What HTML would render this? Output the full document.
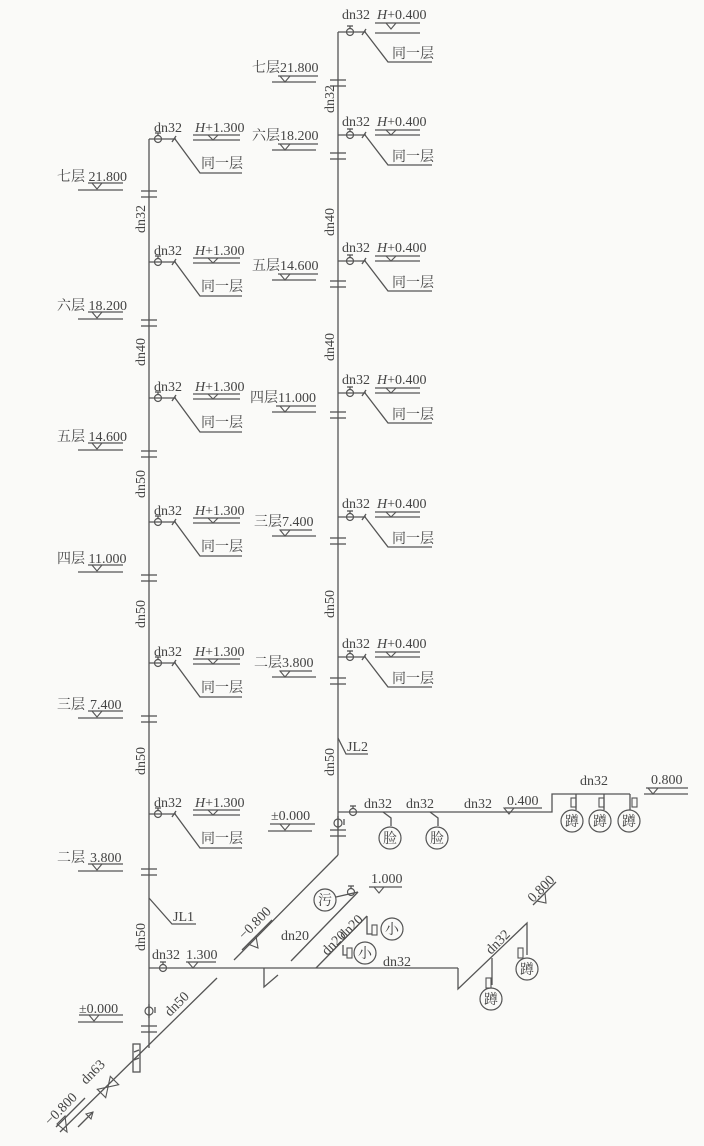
<!DOCTYPE html>
<html><head><meta charset="utf-8"><style>
html,body{margin:0;padding:0;background:#fafaf8;}
svg{display:block}
text{font-family:"Liberation Serif","Noto Serif CJK SC","Noto Sans CJK SC",serif;font-size:14px;fill:#444}
.s{font-size:14px}
line,path,polyline{stroke:#555;stroke-width:1.3;fill:none}
circle{stroke:#555;stroke-width:1.2;fill:none}
polygon{stroke:#555;stroke-width:1.1;fill:none}
</style></head><body>
<svg width="704" height="1146" viewBox="0 0 704 1146" xmlns="http://www.w3.org/2000/svg">
<!-- LEFT RISER -->
<line x1="149" y1="139" x2="149" y2="1048"/>
<g>
<line x1="141" y1="191" x2="157" y2="191"/><line x1="141" y1="197" x2="157" y2="197"/>
<line x1="141" y1="320" x2="157" y2="320"/><line x1="141" y1="326" x2="157" y2="326"/>
<line x1="141" y1="451" x2="157" y2="451"/><line x1="141" y1="457" x2="157" y2="457"/>
<line x1="141" y1="575" x2="157" y2="575"/><line x1="141" y1="581" x2="157" y2="581"/>
<line x1="141" y1="716" x2="157" y2="716"/><line x1="141" y1="722" x2="157" y2="722"/>
<line x1="141" y1="869" x2="157" y2="869"/><line x1="141" y1="875" x2="157" y2="875"/>
<line x1="141" y1="1026" x2="157" y2="1026"/><line x1="141" y1="1032" x2="157" y2="1032"/>
</g>
<text transform="translate(145,233) rotate(-90)">dn32</text>
<text transform="translate(145,366) rotate(-90)">dn40</text>
<text transform="translate(145,498) rotate(-90)">dn50</text>
<text transform="translate(145,628) rotate(-90)">dn50</text>
<text transform="translate(145,775) rotate(-90)">dn50</text>
<text transform="translate(145,951) rotate(-90)">dn50</text>

<g>
<text x="57" y="181">七层 21.800</text><polygon points="92,183 102,183 97,189"/><line x1="78" y1="190" x2="123" y2="190"/><line x1="88" y1="183" x2="123" y2="183"/>
<text x="57" y="310">六层 18.200</text><polygon points="92,312 102,312 97,318"/><line x1="78" y1="319" x2="123" y2="319"/><line x1="88" y1="312" x2="123" y2="312"/>
<text x="57" y="441">五层 14.600</text><polygon points="92,443 102,443 97,449"/><line x1="78" y1="450" x2="123" y2="450"/><line x1="88" y1="443" x2="123" y2="443"/>
<text x="57" y="563">四层 11.000</text><polygon points="92,565 102,565 97,571"/><line x1="78" y1="572" x2="123" y2="572"/><line x1="88" y1="565" x2="123" y2="565"/>
<text x="57" y="709">三层</text><text x="90" y="709">7.400</text><polygon points="92,711 102,711 97,717"/><line x1="78" y1="718" x2="123" y2="718"/><line x1="88" y1="711" x2="123" y2="711"/>
<text x="57" y="862">二层</text><text x="90" y="862">3.800</text><polygon points="92,864 102,864 97,870"/><line x1="78" y1="871" x2="123" y2="871"/><line x1="88" y1="864" x2="123" y2="864"/>
<text x="79" y="1013">±0.000</text><polygon points="89,1015 99,1015 94,1021"/><line x1="78" y1="1022" x2="123" y2="1022"/><line x1="79" y1="1015" x2="123" y2="1015"/>
</g>

<g transform="translate(0,139)">
<line x1="149" y1="0" x2="176" y2="0"/><circle cx="158" cy="0" r="3.5"/><line x1="155" y1="-6" x2="161" y2="-6"/><line x1="158" y1="-6" x2="158" y2="-3.5"/>
<path d="M172,3 L176,-3"/><path d="M175,0 L200,34 L242,34"/>
<text x="154" y="-7">dn32</text><text x="195" y="-7"><tspan font-style="italic">H</tspan>+1.300</text>
<line x1="193" y1="-4" x2="240" y2="-4"/><polygon points="208,-4 218,-4 213,1"/><line x1="193" y1="1" x2="240" y2="1"/>
<text x="201" y="29">同一层</text>
</g>
<g transform="translate(0,262)">
<line x1="149" y1="0" x2="176" y2="0"/><circle cx="158" cy="0" r="3.5"/><line x1="155" y1="-6" x2="161" y2="-6"/><line x1="158" y1="-6" x2="158" y2="-3.5"/>
<path d="M172,3 L176,-3"/><path d="M175,0 L200,34 L242,34"/>
<text x="154" y="-7">dn32</text><text x="195" y="-7"><tspan font-style="italic">H</tspan>+1.300</text>
<line x1="193" y1="-4" x2="240" y2="-4"/><polygon points="208,-4 218,-4 213,1"/><line x1="193" y1="1" x2="240" y2="1"/>
<text x="201" y="29">同一层</text>
</g>
<g transform="translate(0,398)">
<line x1="149" y1="0" x2="176" y2="0"/><circle cx="158" cy="0" r="3.5"/><line x1="155" y1="-6" x2="161" y2="-6"/><line x1="158" y1="-6" x2="158" y2="-3.5"/>
<path d="M172,3 L176,-3"/><path d="M175,0 L200,34 L242,34"/>
<text x="154" y="-7">dn32</text><text x="195" y="-7"><tspan font-style="italic">H</tspan>+1.300</text>
<line x1="193" y1="-4" x2="240" y2="-4"/><polygon points="208,-4 218,-4 213,1"/><line x1="193" y1="1" x2="240" y2="1"/>
<text x="201" y="29">同一层</text>
</g>
<g transform="translate(0,522)">
<line x1="149" y1="0" x2="176" y2="0"/><circle cx="158" cy="0" r="3.5"/><line x1="155" y1="-6" x2="161" y2="-6"/><line x1="158" y1="-6" x2="158" y2="-3.5"/>
<path d="M172,3 L176,-3"/><path d="M175,0 L200,34 L242,34"/>
<text x="154" y="-7">dn32</text><text x="195" y="-7"><tspan font-style="italic">H</tspan>+1.300</text>
<line x1="193" y1="-4" x2="240" y2="-4"/><polygon points="208,-4 218,-4 213,1"/><line x1="193" y1="1" x2="240" y2="1"/>
<text x="201" y="29">同一层</text>
</g>
<g transform="translate(0,663)">
<line x1="149" y1="0" x2="176" y2="0"/><circle cx="158" cy="0" r="3.5"/><line x1="155" y1="-6" x2="161" y2="-6"/><line x1="158" y1="-6" x2="158" y2="-3.5"/>
<path d="M172,3 L176,-3"/><path d="M175,0 L200,34 L242,34"/>
<text x="154" y="-7">dn32</text><text x="195" y="-7"><tspan font-style="italic">H</tspan>+1.300</text>
<line x1="193" y1="-4" x2="240" y2="-4"/><polygon points="208,-4 218,-4 213,1"/><line x1="193" y1="1" x2="240" y2="1"/>
<text x="201" y="29">同一层</text>
</g>
<g transform="translate(0,814)">
<line x1="149" y1="0" x2="176" y2="0"/><circle cx="158" cy="0" r="3.5"/><line x1="155" y1="-6" x2="161" y2="-6"/><line x1="158" y1="-6" x2="158" y2="-3.5"/>
<path d="M172,3 L176,-3"/><path d="M175,0 L200,34 L242,34"/>
<text x="154" y="-7">dn32</text><text x="195" y="-7"><tspan font-style="italic">H</tspan>+1.300</text>
<line x1="193" y1="-4" x2="240" y2="-4"/><polygon points="208,-4 218,-4 213,1"/><line x1="193" y1="1" x2="240" y2="1"/>
<text x="201" y="29">同一层</text>
</g>

<path d="M149,898 L172,924 L196,924"/><text x="173" y="921">JL1</text>

<line x1="149" y1="968" x2="458" y2="968"/>
<circle cx="163" cy="968" r="3.5"/><line x1="160" y1="962" x2="166" y2="962"/><line x1="163" y1="962" x2="163" y2="964.5"/>
<text x="152" y="959">dn32</text><text x="186" y="959">1.300</text>
<line x1="186" y1="962" x2="216" y2="962"/><polygon points="188,962 198,962 193,968"/>
<path d="M264,968 L264,987 L278,975"/>
<circle cx="149" cy="1011" r="4"/><line x1="149" y1="1004" x2="149" y2="1018"/><line x1="155" y1="1007" x2="155" y2="1013"/>

<!-- dn50 / dn63 diagonal -->
<line x1="217" y1="978" x2="60" y2="1132"/>
<text transform="translate(170,1017) rotate(-45)">dn50</text>
<text transform="translate(86,1085) rotate(-45)">dn63</text>
<rect x="133" y="1044" width="7" height="28" fill="none" stroke="#555" stroke-width="1.3"/>
<line x1="134" y1="1052" x2="139" y2="1050"/><line x1="134" y1="1060" x2="139" y2="1058"/>
<polygon points="108,1087 97.3,1089.3 105.7,1097.7"/>
<polygon points="108,1087 110.3,1076.3 118.7,1084.7"/>
<line x1="78" y1="1127" x2="93" y2="1112"/><polygon points="93,1112 86,1114 91,1119" fill="#555"/>
<text transform="translate(50,1126) rotate(-45)">−0.800</text>
<line x1="56" y1="1127" x2="85" y2="1098"/><polygon points="57,1124 65,1116 67,1132"/>

<!-- RIGHT RISER -->
<line x1="338" y1="32" x2="338" y2="855"/>
<line x1="338" y1="855" x2="234" y2="960"/>
<g>
<line x1="330" y1="80" x2="346" y2="80"/><line x1="330" y1="86" x2="346" y2="86"/>
<line x1="330" y1="153" x2="346" y2="153"/><line x1="330" y1="159" x2="346" y2="159"/>
<line x1="330" y1="281" x2="346" y2="281"/><line x1="330" y1="287" x2="346" y2="287"/>
<line x1="330" y1="412" x2="346" y2="412"/><line x1="330" y1="418" x2="346" y2="418"/>
<line x1="330" y1="538" x2="346" y2="538"/><line x1="330" y1="544" x2="346" y2="544"/>
<line x1="330" y1="678" x2="346" y2="678"/><line x1="330" y1="684" x2="346" y2="684"/>
<line x1="330" y1="830" x2="346" y2="830"/><line x1="330" y1="836" x2="346" y2="836"/>
</g>
<circle cx="338" cy="823" r="4"/><line x1="338" y1="816" x2="338" y2="830"/><line x1="344" y1="819" x2="344" y2="825"/>
<text transform="translate(334,113) rotate(-90)">dn32</text>
<text transform="translate(334,236) rotate(-90)">dn40</text>
<text transform="translate(334,361) rotate(-90)">dn40</text>
<text transform="translate(334,618) rotate(-90)">dn50</text>
<text transform="translate(334,776) rotate(-90)">dn50</text>
<path d="M338,738 L346,754 L368,754"/><text x="347" y="751">JL2</text>

<g>
<text x="252" y="72">七层21.800</text><line x1="278" y1="76" x2="318" y2="76"/><polygon points="280,76 290,76 285,82"/><line x1="272" y1="82" x2="316" y2="82"/>
<text x="252" y="140">六层18.200</text><line x1="278" y1="144" x2="318" y2="144"/><polygon points="280,144 290,144 285,150"/><line x1="272" y1="150" x2="316" y2="150"/>
<text x="252" y="270">五层14.600</text><line x1="278" y1="274" x2="318" y2="274"/><polygon points="280,274 290,274 285,280"/><line x1="272" y1="280" x2="316" y2="280"/>
<text x="250" y="402">四层11.000</text><line x1="276" y1="406" x2="316" y2="406"/><polygon points="280,406 290,406 285,412"/><line x1="272" y1="412" x2="316" y2="412"/>
<text x="254" y="526">三层7.400</text><line x1="280" y1="530" x2="312" y2="530"/><polygon points="280,530 290,530 285,536"/><line x1="272" y1="536" x2="316" y2="536"/>
<text x="254" y="667">二层3.800</text><line x1="280" y1="671" x2="312" y2="671"/><polygon points="280,671 290,671 285,677"/><line x1="272" y1="677" x2="316" y2="677"/>
<text x="271" y="820">±0.000</text><line x1="270" y1="824" x2="315" y2="824"/><polygon points="280,824 290,824 285,830"/><line x1="268" y1="831" x2="312" y2="831"/>
</g>

<g transform="translate(0,32)">
<line x1="338" y1="0" x2="366" y2="0"/><circle cx="350" cy="0" r="3.5"/><line x1="347" y1="-6" x2="353" y2="-6"/><line x1="350" y1="-6" x2="350" y2="-3.5"/>
<path d="M362,3 L366,-3"/><path d="M365,0 L388,30 L432,30"/>
<text x="342" y="-13">dn32</text><text x="377" y="-13"><tspan font-style="italic">H</tspan>+0.400</text>
<line x1="375" y1="-9" x2="420" y2="-9"/><polygon points="386,-9 396,-9 391,-3"/><line x1="375" y1="1" x2="420" y2="1"/>
<text x="392" y="26">同一层</text>
</g>
<g transform="translate(0,135)">
<line x1="338" y1="0" x2="366" y2="0"/><circle cx="350" cy="0" r="3.5"/><line x1="347" y1="-6" x2="353" y2="-6"/><line x1="350" y1="-6" x2="350" y2="-3.5"/>
<path d="M362,3 L366,-3"/><path d="M365,0 L388,30 L432,30"/>
<text x="342" y="-9">dn32</text><text x="377" y="-9"><tspan font-style="italic">H</tspan>+0.400</text>
<line x1="375" y1="-5" x2="420" y2="-5"/><polygon points="386,-5 396,-5 391,0"/><line x1="375" y1="0" x2="420" y2="0"/>
<text x="392" y="26">同一层</text>
</g>
<g transform="translate(0,261)">
<line x1="338" y1="0" x2="366" y2="0"/><circle cx="350" cy="0" r="3.5"/><line x1="347" y1="-6" x2="353" y2="-6"/><line x1="350" y1="-6" x2="350" y2="-3.5"/>
<path d="M362,3 L366,-3"/><path d="M365,0 L388,30 L432,30"/>
<text x="342" y="-9">dn32</text><text x="377" y="-9"><tspan font-style="italic">H</tspan>+0.400</text>
<line x1="375" y1="-5" x2="420" y2="-5"/><polygon points="386,-5 396,-5 391,0"/><line x1="375" y1="0" x2="420" y2="0"/>
<text x="392" y="26">同一层</text>
</g>
<g transform="translate(0,393)">
<line x1="338" y1="0" x2="366" y2="0"/><circle cx="350" cy="0" r="3.5"/><line x1="347" y1="-6" x2="353" y2="-6"/><line x1="350" y1="-6" x2="350" y2="-3.5"/>
<path d="M362,3 L366,-3"/><path d="M365,0 L388,30 L432,30"/>
<text x="342" y="-9">dn32</text><text x="377" y="-9"><tspan font-style="italic">H</tspan>+0.400</text>
<line x1="375" y1="-5" x2="420" y2="-5"/><polygon points="386,-5 396,-5 391,0"/><line x1="375" y1="0" x2="420" y2="0"/>
<text x="392" y="26">同一层</text>
</g>
<g transform="translate(0,517)">
<line x1="338" y1="0" x2="366" y2="0"/><circle cx="350" cy="0" r="3.5"/><line x1="347" y1="-6" x2="353" y2="-6"/><line x1="350" y1="-6" x2="350" y2="-3.5"/>
<path d="M362,3 L366,-3"/><path d="M365,0 L388,30 L432,30"/>
<text x="342" y="-9">dn32</text><text x="377" y="-9"><tspan font-style="italic">H</tspan>+0.400</text>
<line x1="375" y1="-5" x2="420" y2="-5"/><polygon points="386,-5 396,-5 391,0"/><line x1="375" y1="0" x2="420" y2="0"/>
<text x="392" y="26">同一层</text>
</g>
<g transform="translate(0,657)">
<line x1="338" y1="0" x2="366" y2="0"/><circle cx="350" cy="0" r="3.5"/><line x1="347" y1="-6" x2="353" y2="-6"/><line x1="350" y1="-6" x2="350" y2="-3.5"/>
<path d="M362,3 L366,-3"/><path d="M365,0 L388,30 L432,30"/>
<text x="342" y="-9">dn32</text><text x="377" y="-9"><tspan font-style="italic">H</tspan>+0.400</text>
<line x1="375" y1="-5" x2="420" y2="-5"/><polygon points="386,-5 396,-5 391,0"/><line x1="375" y1="0" x2="420" y2="0"/>
<text x="392" y="26">同一层</text>
</g>

<path d="M338,812 L552,812 L552,794 L630,794"/>
<circle cx="353" cy="812" r="3.5"/><line x1="350" y1="806" x2="356" y2="806"/><line x1="353" y1="806" x2="353" y2="808.5"/>
<text x="364" y="808">dn32</text><text x="406" y="808">dn32</text><text x="464" y="808">dn32</text><text x="507" y="805">0.400</text>
<line x1="505" y1="808" x2="542" y2="808"/><polygon points="504,808 514,808 509,814"/>
<path d="M383,812 L391,818 L391,826"/><circle cx="390" cy="838" r="11"/><text x="383" y="843" class="s">脸</text>
<path d="M430,812 L438,818 L438,826"/><circle cx="437" cy="838" r="11"/><text x="430" y="843" class="s">脸</text>
<text x="580" y="785">dn32</text>
<g>
<line x1="576" y1="794" x2="576" y2="810"/><rect x="571" y="798" width="5" height="9" fill="none" stroke="#555" stroke-width="1.1"/><circle cx="572" cy="821" r="11"/><text x="565" y="826" class="s">蹲</text>
<line x1="604" y1="794" x2="604" y2="810"/><rect x="599" y="798" width="5" height="9" fill="none" stroke="#555" stroke-width="1.1"/><circle cx="600" cy="821" r="11"/><text x="593" y="826" class="s">蹲</text>
<line x1="630" y1="794" x2="630" y2="810"/><rect x="632" y="798" width="5" height="9" fill="none" stroke="#555" stroke-width="1.1"/><circle cx="629" cy="821" r="11"/><text x="622" y="826" class="s">蹲</text>
</g>
<text x="651" y="784">0.800</text><line x1="646" y1="788" x2="688" y2="788"/><polygon points="648,788 658,788 653,794"/><line x1="644" y1="794" x2="688" y2="794"/>

<text transform="translate(244,940) rotate(-45)">−0.800</text>
<line x1="242" y1="950" x2="272" y2="920"/><polygon points="248,944 256,936 258,948"/>
<text x="281" y="940">dn20</text>

<line x1="291" y1="961" x2="358" y2="892"/>
<circle cx="325" cy="900" r="11"/><text x="318" y="905" class="s">污</text>
<line x1="336" y1="897" x2="358" y2="892"/>
<circle cx="351" cy="892" r="3.5"/><line x1="348" y1="886" x2="354" y2="886"/><line x1="351" y1="886" x2="351" y2="888.5"/>
<text x="371" y="883">1.000</text><line x1="369" y1="887" x2="402" y2="887"/><polygon points="374,887 384,887 379,893"/>
<line x1="316" y1="968" x2="367" y2="916"/>
<text transform="translate(327,956) rotate(-45)">dn20</text>
<text transform="translate(344,940) rotate(-45)">dn20</text>
<path d="M367,916 L367,934 L372,934"/><rect x="372" y="925" width="5" height="10" fill="none" stroke="#555" stroke-width="1.1"/><circle cx="392" cy="929" r="11"/><text x="385" y="934" class="s">小</text>
<path d="M343,945 L343,955 L347,955"/><rect x="347" y="948" width="5" height="10" fill="none" stroke="#555" stroke-width="1.1"/><circle cx="365" cy="953" r="11"/><text x="358" y="958" class="s">小</text>
<text x="383" y="966">dn32</text>

<path d="M458,968 L458,989 L527,923 L527,955"/>
<rect x="518" y="948" width="5" height="10" fill="none" stroke="#555" stroke-width="1.1"/><circle cx="527" cy="969" r="11"/><text x="520" y="974" class="s">蹲</text>
<line x1="492" y1="958" x2="492" y2="985"/><rect x="486" y="978" width="5" height="10" fill="none" stroke="#555" stroke-width="1.1"/><circle cx="491" cy="999" r="11"/><text x="484" y="1004" class="s">蹲</text>
<text transform="translate(491,955) rotate(-45)">dn32</text>
<text transform="translate(533,903) rotate(-45)">0.800</text>
<line x1="533" y1="905" x2="556" y2="882"/><polygon points="537,901 545,893 546,903"/>
</svg>
</body></html>
